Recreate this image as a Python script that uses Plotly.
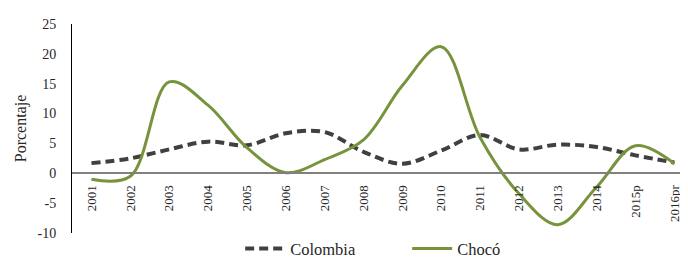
import plotly.graph_objects as go

years = ["2001", "2002", "2003", "2004", "2005", "2006", "2007", "2008",
         "2009", "2010", "2011", "2012", "2013", "2014", "2015p", "2016pr"]
colombia = [1.7, 2.5, 4.0, 5.3, 4.7, 6.7, 6.9, 3.6, 1.6, 3.8, 6.4, 4.0, 4.8, 4.4, 3.0, 1.8]
choco = [-1.0, -0.5, 15.3, 11.4, 4.3, 0.1, 2.3, 5.6, 14.7, 21.2, 6.0, -3.4, -8.6, -2.3, 4.6, 1.6]
y_ticks = [-10, -5, 0, 5, 10, 15, 20, 25]

FONT = "Liberation Serif"
TXT = "#262626"

fig = go.Figure()
fig.add_trace(go.Scatter(
    x=list(range(len(years))), y=colombia, name="Colombia", mode="lines",
    line=dict(color="#404040", width=4, dash="9px,5px", shape="spline", smoothing=1),
))
fig.add_trace(go.Scatter(
    x=list(range(len(years))), y=choco, name="Chocó", mode="lines",
    line=dict(color="#77933C", width=3, shape="spline", smoothing=1),
))

ymin, ymax = -10, 25
# page body has an 8px margin, so the figure is 8px smaller than the window
fig.update_layout(
    width=680, height=253,
    margin=dict(l=64, r=0, t=16, b=28, autoexpand=False),
    paper_bgcolor="white", plot_bgcolor="white",
    font=dict(family=FONT, color=TXT),
    showlegend=True,
    legend=dict(orientation="h", x=0.273, xanchor="left", y=-0.075, yanchor="middle",
                font=dict(size=16.5, family=FONT, color=TXT),
                itemwidth=40, entrywidth=112, bgcolor="rgba(0,0,0,0)"),
    xaxis=dict(
        anchor="free", position=(0 - ymin) / (ymax - ymin),
        range=[-0.5, 15.35], automargin=False,
        tickmode="array", tickvals=list(range(len(years))), ticktext=years,
        tickangle=-90, tickfont=dict(size=13, family=FONT, color=TXT),
        showline=True, linecolor="#808080", linewidth=1.5,
        showgrid=False, zeroline=False, ticks="", ticklabelstandoff=6,
    ),
    yaxis=dict(
        range=[ymin, ymax], tickvals=y_ticks, ticktext=[str(v) for v in y_ticks],
        automargin=False,
        tickfont=dict(size=14, family=FONT, color=TXT),
        showline=True, linecolor="#000000", linewidth=1,
        showgrid=False, zeroline=False, ticks="", ticklabelstandoff=12,
        title=dict(text="Porcentaje", font=dict(size=16, family=FONT, color=TXT), standoff=6),
    ),
)

fig.write_html("out.html")
